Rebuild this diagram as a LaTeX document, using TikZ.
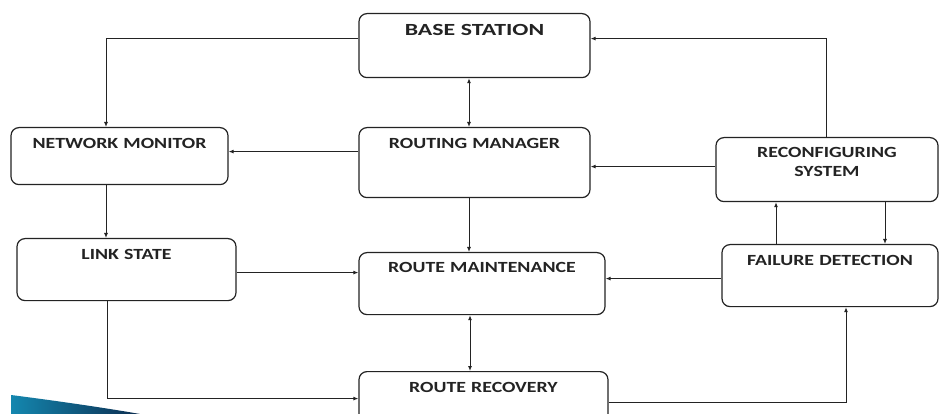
\documentclass[tikz,border=0pt]{standalone}
\usepackage{fontspec}
\setmainfont{Carlito}
\newfontfamily\lblfont[FakeStretch=1.28]{Carlito}
\newfontfamily\bsfont[FakeStretch=1.4]{Carlito}
\usetikzlibrary{arrows.meta}
\definecolor{ink}{RGB}{35,35,35}
\definecolor{swA}{RGB}{20,135,175}
\definecolor{swB}{RGB}{12,45,80}
\tikzset{
  box/.style={draw=ink, line width=1.2pt, rounded corners=8pt, inner sep=0pt,
    align=center, anchor=north, text=ink, font=\lblfont\bfseries\fontsize{15.5}{19}\selectfont},
  arr/.style={draw=ink, line width=1pt, -{Latex[length=5pt,width=4pt]}},
  dbl/.style={draw=ink, line width=1pt, {Latex[length=5pt,width=4pt]}-{Latex[length=5pt,width=4pt]}}
}
\begin{document}
\begin{tikzpicture}[x=1pt,y=-1pt]
\clip (0,0) rectangle (940,414);
\fill[white] (0,0) rectangle (940,414);
% decorative swoosh
\shade[left color=swA, right color=swB] (11,395) .. controls (50,400) and (100,407) .. (140,414) -- (11,414) -- cycle;
% boxes
\node[box, text width=231pt, text height=22pt, text depth=42pt,
  font=\bsfont\bfseries\fontsize{17}{19}\selectfont] (bs) at (474.5,13) {BASE STATION};
\node[box, text width=217pt, text height=21pt, text depth=36pt] (nm) at (119.5,127) {NETWORK MONITOR};
\node[box, text width=231pt, text height=21pt, text depth=49pt] (rm) at (474.5,127) {ROUTING MANAGER};
\node[box, text width=222pt, text height=20pt, text depth=44pt] (rc) at (827,137) {RECONFIGURING\\SYSTEM};
\node[box, text width=219pt, text height=21pt, text depth=41pt] (ls) at (126.5,238) {LINK STATE};
\node[box, text width=246pt, text height=20pt, text depth=42pt] (mt) at (482,252) {ROUTE MAINTENANCE};
\node[box, text width=216pt, text height=21pt, text depth=41pt] (fd) at (830,244) {FAILURE DETECTION};
\node[box, text width=249pt, text height=21pt, text depth=48pt] (rr) at (483.5,371) {ROUTE RECOVERY};
% connectors
\draw[arr] ([yshift=7pt]bs.west) -| ([xshift=-13.5pt]nm.north);
\draw[arr] ([xshift=-1pt]rc.north) |- ([yshift=7pt]bs.east);
\draw[dbl] ([xshift=-5.5pt]rm.north) -- ([xshift=-5.5pt]rm.north |- bs.south);
\draw[arr] ([yshift=11pt]rm.west) -- ([yshift=11pt]rm.west -| nm.east);
\draw[arr] ([yshift=3pt]rc.west) -- ([yshift=3pt]rc.west -| rm.east);
\draw[arr] ([xshift=-13.5pt]nm.south) -- ([xshift=-13.5pt]nm.south |- ls.north);
\draw[arr] ([xshift=-5.5pt]rm.south) -- ([xshift=-5.5pt]rm.south |- mt.north);
\draw[arr] ([yshift=-3pt]ls.east) -- ([yshift=-3pt]ls.east -| mt.west);
\draw[arr] ([yshift=-3pt]fd.west) -- ([yshift=-3pt]fd.west -| mt.east);
\draw[arr] ([xshift=-54pt]fd.north) -- ([xshift=-54pt]fd.north |- rc.south);
\draw[arr] ([xshift=58pt]rc.south) -- ([xshift=58pt]rc.south |- fd.north);
\draw[arr] ([xshift=-19.5pt]ls.south) |- ([yshift=7.5pt]rr.west);
\draw[dbl] ([xshift=-12pt]mt.south) -- ([xshift=-12pt]mt.south |- rr.north);
\draw[arr] ([yshift=3.5pt]rr.east) -| ([xshift=16pt]fd.south);
\end{tikzpicture}
\end{document}
